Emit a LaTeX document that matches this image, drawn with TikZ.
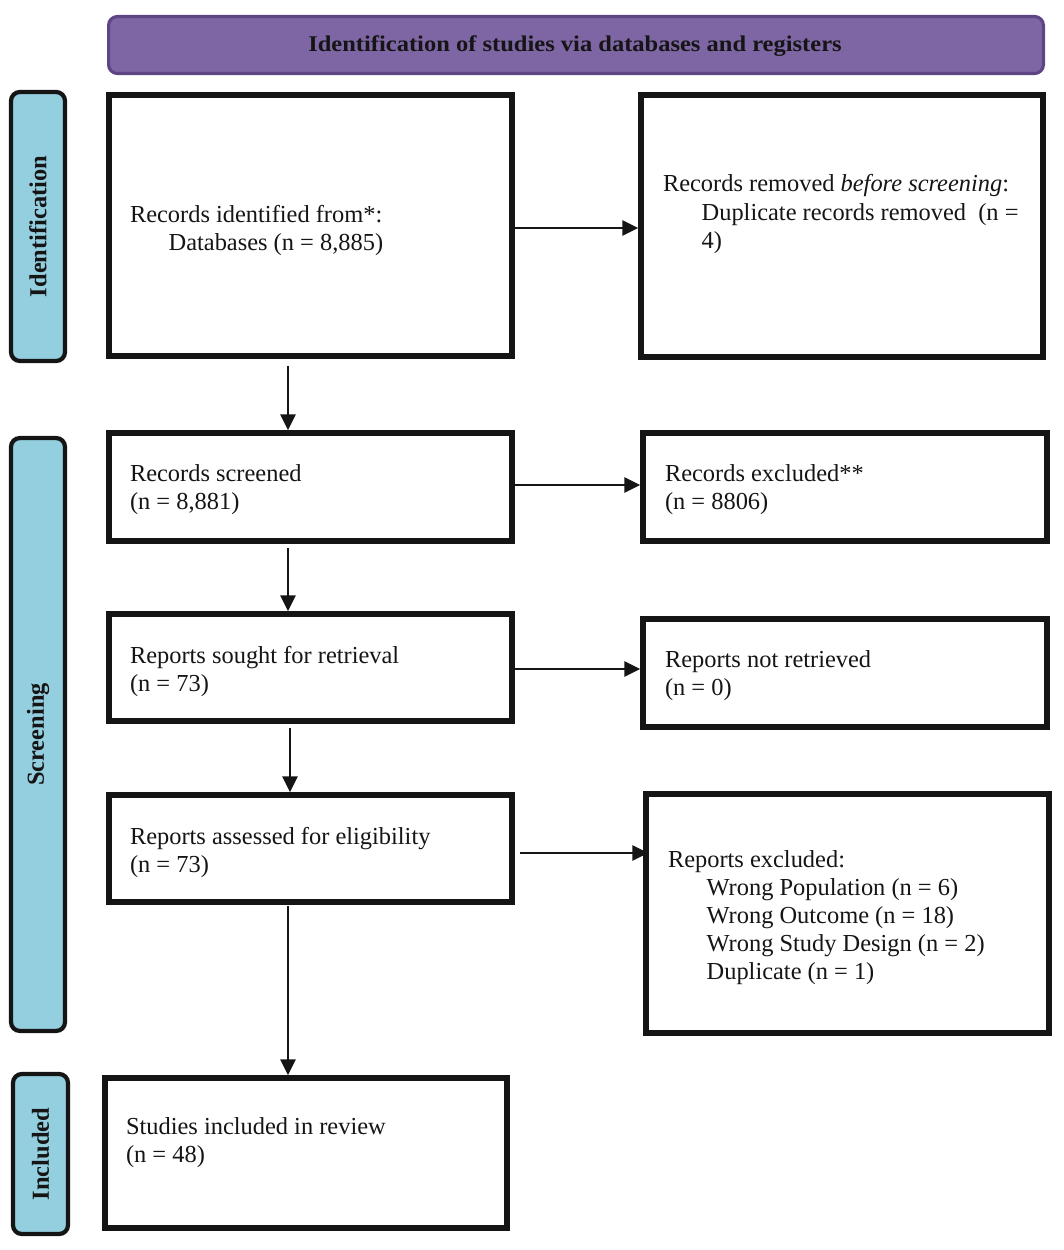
\documentclass[tikz,border=0pt]{standalone}
\usepackage{fontspec}
\setmainfont{Liberation Serif}
\usetikzlibrary{arrows.meta,calc}
\definecolor{hdrfill}{HTML}{7E65A4}
\definecolor{hdrline}{HTML}{5E4684}
\definecolor{sidefill}{HTML}{94CFE0}
\definecolor{inkc}{HTML}{151515}
\tikzset{
  box/.style={draw=inkc, line width=3.2pt, fill=white, inner sep=0pt},
  sidebar/.style={draw=inkc, line width=2.4pt, fill=sidefill, rounded corners=5pt, inner sep=0pt},
  sidetext/.style={rotate=90, font=\fontsize{13.9}{16}\selectfont\bfseries, text=inkc},
  header/.style={draw=hdrline, line width=1.8pt, fill=hdrfill, rounded corners=5pt, inner sep=0pt},
  hdrtext/.style={inner sep=0pt, text=inkc, font=\fontsize{12.8}{14}\selectfont\bfseries},
  txt/.style={anchor=base west, inner sep=0pt, outer sep=0pt, text=inkc, font=\fontsize{13.9}{15.94}\selectfont},
  arr/.style={draw=inkc, line width=1.4pt, -{Triangle[length=9pt,width=8.5pt]}},
}
\newcommand{\lines}[1]{\vtop{\baselineskip=15.94pt #1}}
\newcommand{\ind}{\hspace*{22pt}}
\begin{document}
\begin{tikzpicture}[x=0.02cm,y=-0.02cm]
\useasboundingbox (0,0) rectangle (1063,1250);
% header
\node[header, minimum width=18.70cm, minimum height=1.14cm] (hdr) at (576,45) {};
\node[hdrtext] (hdrt) at (575,46.5) {\scalebox{1.09}[1]{Identification of studies via databases and registers}};
% side bars
\node[sidebar, minimum width=1.08cm, minimum height=5.38cm] (sid) at (38,226.5) {};
\node[sidetext] (sidt) at (sid.center) {Identification};
\node[sidebar, minimum width=1.08cm, minimum height=11.86cm] (sscr) at (38,734.5) {};
\node[sidetext] (sscrt) at (sscr.center) {Screening};
\node[sidebar, minimum width=1.10cm, minimum height=3.20cm] (sinc) at (40.5,1154) {};
\node[sidetext] (sinct) at (sinc.center) {Included};
% boxes
\node[box, minimum width=8.06cm, minimum height=5.22cm] (b1) at (310.5,225.5) {};
\node[box, minimum width=8.04cm, minimum height=5.24cm] (b2) at (842,226) {};
\node[box, minimum width=8.06cm, minimum height=2.16cm] (b3) at (310.5,487) {};
\node[box, minimum width=8.08cm, minimum height=2.16cm] (b4) at (845,487) {};
\node[box, minimum width=8.06cm, minimum height=2.14cm] (b5) at (310.5,667.5) {};
\node[box, minimum width=8.08cm, minimum height=2.16cm] (b6) at (845,673) {};
\node[box, minimum width=8.06cm, minimum height=2.14cm] (b7) at (310.5,848.5) {};
\node[box, minimum width=8.06cm, minimum height=4.78cm] (b8) at (847.5,913.5) {};
\node[box, minimum width=8.04cm, minimum height=3.00cm] (b9) at (306,1153) {};
% texts
\node[txt] (t1) at (130,222) {\lines{\hbox{Records identified from*:}\hbox{\ind Databases (n = 8,885)}}};
\node[txt] (t2) at (663,192) {\lines{\hbox{Records removed \textit{before screening}:}\hbox{\ind Duplicate records removed\ \ (n =}\hbox{\ind 4)}}};
\node[txt] (t3) at (130,481) {\lines{\hbox{Records screened}\hbox{(n = 8,881)}}};
\node[txt] (t4) at (665,481) {\lines{\hbox{Records excluded**}\hbox{(n = 8806)}}};
\node[txt] (t5) at (130,663) {\lines{\hbox{Reports sought for retrieval}\hbox{(n = 73)}}};
\node[txt] (t6) at (665,667) {\lines{\hbox{Reports not retrieved}\hbox{(n = 0)}}};
\node[txt] (t7) at (130,844) {\lines{\hbox{Reports assessed for eligibility}\hbox{(n = 73)}}};
\node[txt] (t8) at (668,867) {\lines{\hbox{Reports excluded:}\hbox{\ind Wrong Population (n = 6)}\hbox{\ind Wrong Outcome (n = 18)}\hbox{\ind Wrong Study Design (n = 2)}\hbox{\ind Duplicate (n = 1)}}};
\node[txt] (t9) at (126,1134) {\lines{\hbox{Studies included in review}\hbox{(n = 48)}}};
% horizontal arrows
\draw[arr] ([yshift=-0.05cm]b1.east) -- ([yshift=-0.05cm]b1.east -| b2.west);
\draw[arr] ([yshift=0.04cm]b3.east) -- ([yshift=0.04cm]b3.east -| b4.west);
\draw[arr] ([yshift=-0.03cm]b5.east) -- ([yshift=-0.03cm]b5.east -| b6.west);
\draw[arr] ([xshift=0.1cm,yshift=-0.09cm]b7.east) -- ([xshift=0.1cm,yshift=-0.09cm]b7.east -| b8.west);
% vertical arrows
\draw[arr] ([xshift=-0.45cm,yshift=-0.14cm]b1.south) -- ([xshift=-0.45cm]b3.north);
\draw[arr] ([xshift=-0.45cm,yshift=-0.08cm]b3.south) -- ([xshift=-0.45cm]b5.north);
\draw[arr] ([xshift=-0.41cm,yshift=-0.08cm]b5.south) -- ([xshift=-0.41cm]b7.north);
\draw[arr] ([xshift=-0.45cm,yshift=-0.02cm]b7.south) -- ([xshift=-0.45cm]b7.south |- b9.north);
\end{tikzpicture}
\end{document}
